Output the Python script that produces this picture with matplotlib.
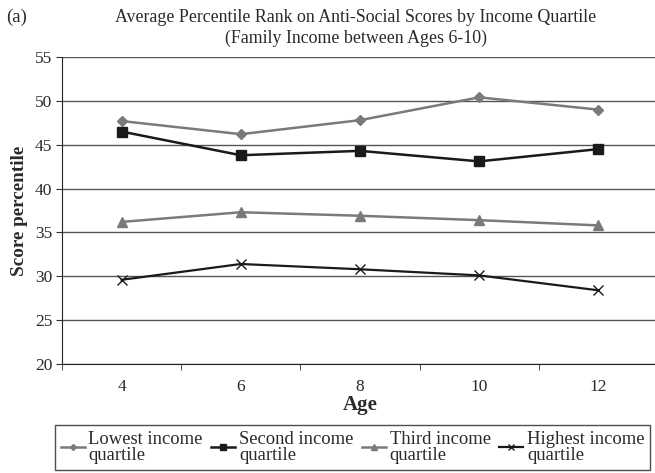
import matplotlib
matplotlib.use("Agg")
import matplotlib.pyplot as plt
from matplotlib.ticker import FixedLocator

plt.rcParams['font.family'] = ['Liberation Serif', 'DejaVu Serif']

ages = ['4', '6', '8', '10', '12']
lowest = [47.7, 46.2, 47.8, 50.4, 49.0]
second = [46.5, 43.8, 44.3, 43.1, 44.5]
third = [36.2, 37.3, 36.9, 36.4, 35.8]
highest = [29.6, 31.4, 30.8, 30.1, 28.4]

series_labels = ['Lowest income\nquartile', 'Second income\nquartile',
                 'Third income\nquartile', 'Highest income\nquartile']

GRAY = '#7a7a7a'
BLACK = '#1a1a1a'
TEXT = '#2a2a2a'

fig = plt.figure(figsize=(6.55, 4.73), dpi=100)
ax = fig.add_axes([62 / 655, 1 - 364 / 473, 596 / 655, 307 / 473])

x = range(1, len(ages) + 1)
ax.plot(x, lowest, color=GRAY, lw=1.8, marker='D', ms=5, label=series_labels[0])
ax.plot(x, second, color=BLACK, lw=1.8, marker='s', ms=6.5, label=series_labels[1])
ax.plot(x, third, color=GRAY, lw=1.8, marker='^', ms=7, label=series_labels[2])
ax.plot(x, highest, color=BLACK, lw=1.6, marker='x', ms=7, mew=1.0, label=series_labels[3])

ax.set_xlim(0.5, len(ages) + 0.5)
ax.set_ylim(20, 55)
ax.set_yticks(range(20, 56, 5))
ax.yaxis.grid(True, color='#555555', lw=1.0)
ax.set_axisbelow(True)

ax.set_xticks(list(x))
ax.set_xticklabels(ages)
ax.xaxis.set_minor_locator(FixedLocator([i + 0.5 for i in range(len(ages) + 1)]))
ax.tick_params(axis='x', which='major', length=0, pad=11, labelsize=12.5)
ax.tick_params(axis='x', which='minor', length=4, color='#333333')
ax.tick_params(axis='y', length=4, pad=3, labelsize=12.5, color='#333333')
ax.tick_params(axis='both', labelcolor=TEXT)

for side in ['top', 'right']:
    ax.spines[side].set_visible(False)
ax.spines['left'].set_color('#222222')
ax.spines['bottom'].set_color('#222222')

ax.set_xlabel('Age', fontsize=15, fontweight='bold', labelpad=0, color=TEXT)
ax.set_ylabel('Score percentile', fontsize=13.8, fontweight='bold', labelpad=5, color=TEXT)

fig.text(356 / 655, 1 - 17 / 473,
         'Average Percentile Rank on Anti-Social Scores by Income Quartile',
         ha='center', va='center', fontsize=12.9, color=TEXT)
fig.text(356 / 655, 1 - 38 / 473, '(Family Income between Ages 6-10)',
         ha='center', va='center', fontsize=12.9, color=TEXT)
fig.text(6 / 655, 1 - 17 / 473, '(a)', ha='left', va='center', fontsize=13.5, color=TEXT)

leg = fig.legend(loc='upper left', bbox_to_anchor=(55 / 655, 1 - 425 / 473),
                 borderaxespad=0, ncol=4, fontsize=13.4, frameon=True, fancybox=False,
                 handlelength=1.3, handletextpad=0.2, columnspacing=0.45,
                 borderpad=0.3, labelspacing=0.2, markerscale=0.6)
leg.get_frame().set_edgecolor('#222222')
leg.get_frame().set_linewidth(1.0)
for t in leg.get_texts():
    t.set_linespacing(0.95)
    t.set_color(TEXT)

fig.savefig('out.png', dpi=100)
